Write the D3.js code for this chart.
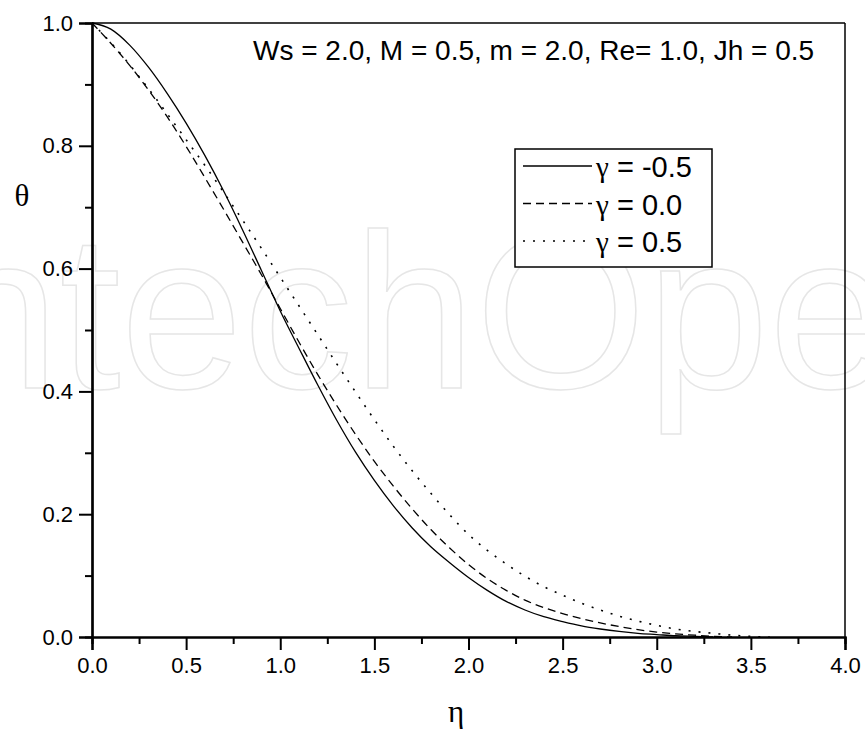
<!DOCTYPE html>
<html><head><meta charset="utf-8">
<script src="https://cdn.jsdelivr.net/npm/d3@7"></script>
<style>body{margin:0;background:#fff}svg{display:block}</style>
</head><body>
<svg id="c" width="865" height="733"></svg>
<script>
const etaSolid = [0,0.1,0.2,0.3,0.4,0.5,0.6,0.7,0.8,0.9,1.0,1.1,1.2,1.3,1.4,1.5,1.6,1.7,1.8,1.9,2.0,2.1,2.2,2.3,2.4,2.5,2.6,2.7,2.8,2.9,3.0,3.1,3.2,3.3];
const thetaNeg05 = [1.000,0.990,0.964,0.928,0.885,0.837,0.784,0.726,0.663,0.597,0.531,0.470,0.410,0.353,0.301,0.255,0.214,0.178,0.147,0.121,0.097,0.076,0.058,0.044,0.033,0.025,0.018,0.013,0.009,0.006,0.004,0.002,0.001,0.000];
const etaDash = [0,0.1,0.2,0.3,0.4,0.5,0.6,0.7,0.8,0.9,1.0,1.1,1.2,1.3,1.4,1.5,1.6,1.7,1.8,1.9,2.0,2.1,2.2,2.3,2.4,2.5,2.6,2.7,2.8,2.9,3.0,3.1,3.2,3.3,3.4];
const theta00 = [1.000,0.967,0.931,0.891,0.847,0.799,0.748,0.696,0.643,0.590,0.535,0.480,0.427,0.377,0.330,0.286,0.246,0.209,0.175,0.145,0.118,0.095,0.076,0.060,0.048,0.038,0.030,0.023,0.017,0.012,0.008,0.005,0.003,0.001,0.000];
const etaDot = [0,0.1,0.2,0.3,0.4,0.5,0.6,0.7,0.8,0.9,1.0,1.1,1.2,1.3,1.4,1.5,1.6,1.7,1.8,1.9,2.0,2.1,2.2,2.3,2.4,2.5,2.6,2.7,2.8,2.9,3.0,3.1,3.2,3.3,3.4,3.5,3.6];
const theta05 = [1.000,0.968,0.932,0.893,0.852,0.810,0.768,0.724,0.679,0.633,0.586,0.539,0.492,0.445,0.399,0.354,0.311,0.271,0.234,0.199,0.167,0.141,0.119,0.099,0.082,0.068,0.055,0.044,0.034,0.026,0.019,0.013,0.009,0.006,0.003,0.001,0.000];
const xTicks = [0,0.5,1.0,1.5,2.0,2.5,3.0,3.5,4.0];
const yTicks = [0,0.2,0.4,0.6,0.8,1.0];
const seriesNames = ["γ = -0.5","γ = 0.0","γ = 0.5"];
const dashes = [null,"8,5","2,8"];
const annotation = "Ws = 2.0, M = 0.5, m = 2.0, Re= 1.0, Jh = 0.5";

const svg = d3.select("#c");
const L=92,R=845,T=23,B=637;
const x = d3.scaleLinear().domain([0,4]).range([L,R]);
const y = d3.scaleLinear().domain([0,1]).range([B,T]);

// watermark
svg.append("text").attr("x",-124).attr("y",388)
  .attr("font-family","Liberation Sans, Arial, sans-serif").attr("font-size",220)
  .attr("fill","none").attr("stroke","#e6e6e6").attr("stroke-width",1.5)
  .text("IntechOpen");

// frame top/right
svg.append("line").attr("x1",L).attr("x2",R).attr("y1",T).attr("y2",T).attr("stroke","#000").attr("stroke-width",1.5);
svg.append("line").attr("x1",R).attr("x2",R).attr("y1",T).attr("y2",B).attr("stroke","#000").attr("stroke-width",1.5);

const font = "Liberation Sans, Arial, sans-serif";
const xa = svg.append("g").attr("transform",`translate(0,${B})`)
  .call(d3.axisBottom(x).tickValues(xTicks).tickFormat(d3.format(".1f")).tickSize(13).tickPadding(6));
const xm = svg.append("g").attr("transform",`translate(0,${B})`)
  .call(d3.axisBottom(x).tickValues(d3.range(0.25,4,0.5)).tickFormat("").tickSize(7));
const ya = svg.append("g").attr("transform",`translate(${L},0)`)
  .call(d3.axisLeft(y).tickValues(yTicks).tickFormat(d3.format(".1f")).tickSize(13).tickPadding(6));
const ym = svg.append("g").attr("transform",`translate(${L},0)`)
  .call(d3.axisLeft(y).tickValues(d3.range(0.1,1,0.2)).tickFormat("").tickSize(7));
[xa,xm,ya,ym].forEach(g=>{
  g.selectAll("path").attr("stroke","#000").attr("stroke-width",2.2);
  g.selectAll("line").attr("stroke","#000").attr("stroke-width",2);
  g.selectAll("text").attr("font-family",font).attr("font-size",22).attr("fill","#000");
});
xa.selectAll("text").attr("dy","0.75em");

// curves
const line = d3.line().x(d=>x(d[0])).y(d=>y(d[1])).curve(d3.curveMonotoneX);
const data = [d3.zip(etaSolid,thetaNeg05), d3.zip(etaDash,theta00), d3.zip(etaDot,theta05)];
data.forEach((d,i)=>{
  svg.append("path").attr("d",line(d)).attr("fill","none").attr("stroke","#000")
    .attr("stroke-width",i==2?1.6:1.3).attr("stroke-dasharray",dashes[i]);
});

// annotation
svg.append("text").attr("x",253).attr("y",60).attr("font-family",font).attr("font-size",28).text(annotation);

// legend
const lg = svg.append("g");
lg.append("rect").attr("x",515).attr("y",149).attr("width",197).attr("height",118)
  .attr("fill","#fff").attr("stroke","#000").attr("stroke-width",1.5);
seriesNames.forEach((s,i)=>{
  const by = 177 + i*37.5;
  lg.append("line").attr("x1",523).attr("x2",592).attr("y1",by-11).attr("y2",by-11)
    .attr("stroke","#000").attr("stroke-width",i==2?1.6:1.3).attr("stroke-dasharray",dashes[i]);
  const t = lg.append("text").attr("x",596).attr("y",by).attr("font-family",font).attr("font-size",29);
  t.append("tspan").attr("font-family","Liberation Serif, Times New Roman, serif").text(s.slice(0,1));
  t.append("tspan").text(s.slice(1));
});

// axis titles
svg.append("text").attr("x",22).attr("y",206).attr("text-anchor","middle")
  .attr("font-family","Liberation Serif, Times New Roman, serif").attr("font-size",31).text("θ");
svg.append("text").attr("x",456).attr("y",722).attr("text-anchor","middle")
  .attr("font-family","Liberation Serif, Times New Roman, serif").attr("font-size",31).text("η");
</script>
</body></html>
